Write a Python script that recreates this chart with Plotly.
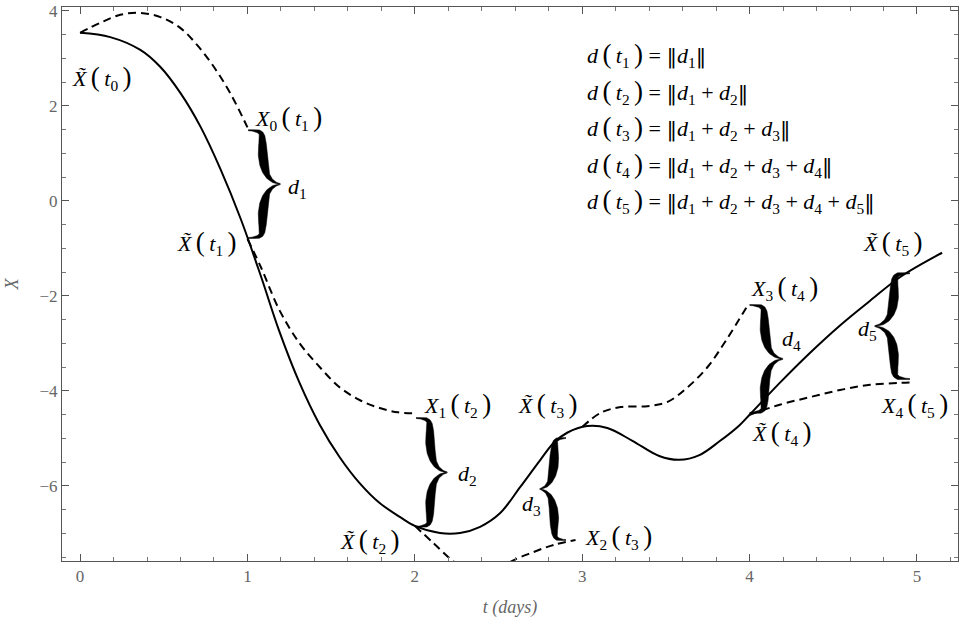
import numpy as np
import plotly.graph_objects as go

# 实线 X~(t)：点
solid_t = [0.00, 0.18, 0.36, 0.48, 0.60, 0.72, 0.84, 0.96, 1.08, 1.19, 1.31, 1.43,
           1.55, 1.67, 1.79, 1.91, 2.00, 2.15, 2.27, 2.39, 2.51, 2.63, 2.75, 2.83, 2.91,
           3.03, 3.15, 3.30, 3.46, 3.58, 3.70, 3.82, 3.94, 4.00, 4.18, 4.36, 4.54, 4.72,
           4.90, 5.15]
solid_x = [3.54, 3.45, 3.18, 2.82, 2.27, 1.56, 0.66, -0.38, -1.58, -2.74, -3.82, -4.70,
           -5.39, -5.94, -6.36, -6.65, -6.84, -6.99, -6.99, -6.86, -6.57, -6.02, -5.45, -5.09, -4.88,
           -4.74, -4.78, -5.05, -5.37, -5.45, -5.35, -5.06, -4.72, -4.50, -3.83, -3.20, -2.62, -2.10,
           -1.60, -1.09]

# 虚线 X_0 ... X_4
dash0_t = [0.00, 0.12, 0.24, 0.36, 0.48, 0.60, 0.70, 0.80, 0.90, 1.00]
dash0_x = [3.54, 3.75, 3.92, 3.96, 3.87, 3.64, 3.28, 2.82, 2.25, 1.55]
dash1_t = [1.00, 1.08, 1.19, 1.31, 1.43, 1.55, 1.67, 1.79, 1.90, 2.00]
dash1_x = [-0.80, -1.39, -2.29, -2.99, -3.49, -3.92, -4.19, -4.36, -4.45, -4.47]
dash2_t = [2.00, 2.11, 2.22, 2.32, 2.42, 2.50, 2.57, 2.71, 2.83, 2.96]
dash2_x = [-6.84, -7.20, -7.56, -7.80, -7.90, -7.80, -7.60, -7.39, -7.24, -7.14]
dash3_t = [3.00, 3.11, 3.23, 3.39, 3.51, 3.63, 3.75, 3.86, 3.99]
dash3_x = [-4.76, -4.46, -4.34, -4.32, -4.23, -3.92, -3.49, -2.93, -2.19]
dash4_t = [4.00, 4.18, 4.36, 4.54, 4.72, 4.90, 4.98]
dash4_x = [-4.50, -4.29, -4.13, -3.98, -3.87, -3.83, -3.82]

# 大括号 d_1 ... d_5：所在的 t，上端和下端的 X，朝向(1 向右, -1 向左)
brace_t = [1.004, 2.007, 2.903, 4.000, 4.958]
brace_top = [1.49, -4.57, -4.99, -2.19, -1.52]
brace_bot = [-0.78, -6.86, -7.14, -4.46, -3.75]
brace_side = [1, 1, -1, 1, -1]
brace_depth = [32, 31, 26, 33, 35]   # 像素

x_range = [-0.108, 5.245]
y_range = [-7.58, 4.084]
W, H = 961, 621
M = dict(l=62, r=3, t=7, b=60)
sx = (W - M['l'] - M['r']) / (x_range[1] - x_range[0])
sy = (H - M['t'] - M['b']) / (y_range[1] - y_range[0])


def bezier(p0, p1, p2, p3, n=40):
    s = np.linspace(0, 1, n)[:, None]
    return (1-s)**3*p0 + 3*(1-s)**2*s*p1 + 3*(1-s)*s**2*p2 + s**3*p3


def brace_half(L, w):
    a = np.array
    c1 = bezier(a([0, 0]), a([0, 0.45*w]), a([0.03*L, 0.45*w]), a([0.12*L, 0.45*w]))
    c2 = bezier(a([0.12*L, 0.45*w]), a([0.32*L, 0.45*w]), a([0.47*L, 0.5*w]), a([0.5*L, w]))
    pts = np.vstack([c1, c2[1:]])
    seg = np.hypot(*np.diff(pts, axis=0).T)
    u = np.concatenate([[0], np.cumsum(seg)]) / seg.sum()
    th = 1.0 + 8.0*np.sin(np.pi*u)**1.5
    tg = np.gradient(pts, axis=0)
    tg /= np.hypot(tg[:, 0], tg[:, 1])[:, None]
    nm = np.column_stack([-tg[:, 1], tg[:, 0]])
    left = pts + nm*th[:, None]/2
    right = pts - nm*th[:, None]/2
    return np.vstack([left, right[::-1]])   # (s, d)


bx, by = [], []
for t0, yt, yb, side, w in zip(brace_t, brace_top, brace_bot, brace_side, brace_depth):
    L = (yt - yb)*sy
    poly = brace_half(L, w)
    # 上半
    bx += list(t0 + side*poly[:, 1]/sx) + [None]
    by += list(yt - poly[:, 0]/sy) + [None]
    # 下半
    bx += list(t0 + side*poly[:, 1]/sx) + [None]
    by += list(yb + poly[:, 0]/sy) + [None]

fig = go.Figure()
dash_style = dict(color='black', width=2, dash='8px,5px')
for tt, xx in [(dash0_t, dash0_x), (dash1_t, dash1_x), (dash2_t, dash2_x),
               (dash3_t, dash3_x), (dash4_t, dash4_x)]:
    fig.add_trace(go.Scatter(x=tt, y=xx, mode='lines', line=dash_style, line_shape='spline',
                             hoverinfo='skip', showlegend=False))
fig.add_trace(go.Scatter(x=solid_t, y=solid_x, mode='lines', line_shape='spline',
                         line=dict(color='black', width=2), hoverinfo='skip', showlegend=False))
fig.add_trace(go.Scatter(x=bx, y=by, mode='lines', fill='toself', fillcolor='black',
                         line=dict(color='black', width=0.5), hoverinfo='skip', showlegend=False))

TS = '\u2009'
LP = f'{TS}<span style="font-size:27px">(</span>{TS}'
RP = f'{TS}<span style="font-size:27px">)</span>'
BAR = '<span style="font-family:DejaVu Serif;font-size:21px">\u2016</span>'


def point_lab(tilde, k, j):
    head = '<i>X\u0303</i>' if tilde else f'<i>X</i><sub>{k}</sub>'
    return f'{head}{LP}<i>t</i><sub>{j}</sub>{RP}'


labels = [
    (point_lab(True, None, 0), 0.131, 2.59),
    (point_lab(False, 0, 1), 1.243, 1.75),
    ('<i>d</i><sub>1</sub>', 1.296, 0.27),
    (point_lab(True, None, 1), 0.759, -0.88),
    (point_lab(False, 1, 2), 2.252, -4.29),
    ('<i>d</i><sub>2</sub>', 2.312, -5.77),
    (point_lab(True, None, 2), 1.732, -7.16),
    (point_lab(True, None, 3), 2.796, -4.29),
    ('<i>d</i><sub>3</sub>', 2.694, -6.40),
    (point_lab(False, 2, 3), 3.214, -7.07),
    (point_lab(False, 3, 4), 4.211, -1.83),
    ('<i>d</i><sub>4</sub>', 4.253, -2.93),
    (point_lab(True, None, 4), 4.194, -4.88),
    (point_lab(True, None, 5), 4.857, -0.88),
    ('<i>d</i><sub>5</sub>', 4.707, -2.72),
    (point_lab(False, 4, 5), 4.988, -4.29),
]
serif = 'Liberation Serif'
for txt, x, y in labels:
    fig.add_annotation(x=x, y=y, text=txt, showarrow=False,
                       font=dict(family=serif, size=22, color='black'))

formula_y = [3.07, 2.29, 1.54, 0.76, 0.0]
for n, y in enumerate(formula_y, start=1):
    rhs = ' + '.join(f'<i>d</i><sub>{i}</sub>' for i in range(1, n + 1))
    txt = f'<i>d</i>{LP}<i>t</i><sub>{n}</sub>{RP} = {BAR}{rhs}{BAR}'
    fig.add_annotation(x=3.017, y=y, text=txt, showarrow=False, xanchor='left',
                       font=dict(family=serif, size=22, color='black'))

axis_common = dict(showline=True, linecolor='#555555', linewidth=1, mirror='ticks',
                   ticks='inside', ticklen=7, tickcolor='#555555', showgrid=False,
                   zeroline=False, tickfont=dict(family=serif, size=17, color='#666666'))
fig.update_xaxes(range=x_range, dtick=1, tick0=0,
                 minor=dict(dtick=0.2, ticks='inside', ticklen=4, tickcolor='#777777'),
                 title=dict(text='<i>t (days)</i>', font=dict(family=serif, size=18, color='#666666'),
                            standoff=14),
                 **axis_common)
fig.update_yaxes(range=y_range, dtick=2, tick0=0,
                 minor=dict(dtick=0.5, ticks='inside', ticklen=4, tickcolor='#777777'),
                 title=dict(text='<i>X</i>', font=dict(family=serif, size=18, color='#666666'),
                            standoff=16),
                 **axis_common)
fig.update_layout(width=W, height=H, margin=M, plot_bgcolor='white', paper_bgcolor='white')

fig.write_html("out.html", config={'displayModeBar': False},
               post_script="document.body.style.margin='0';")
